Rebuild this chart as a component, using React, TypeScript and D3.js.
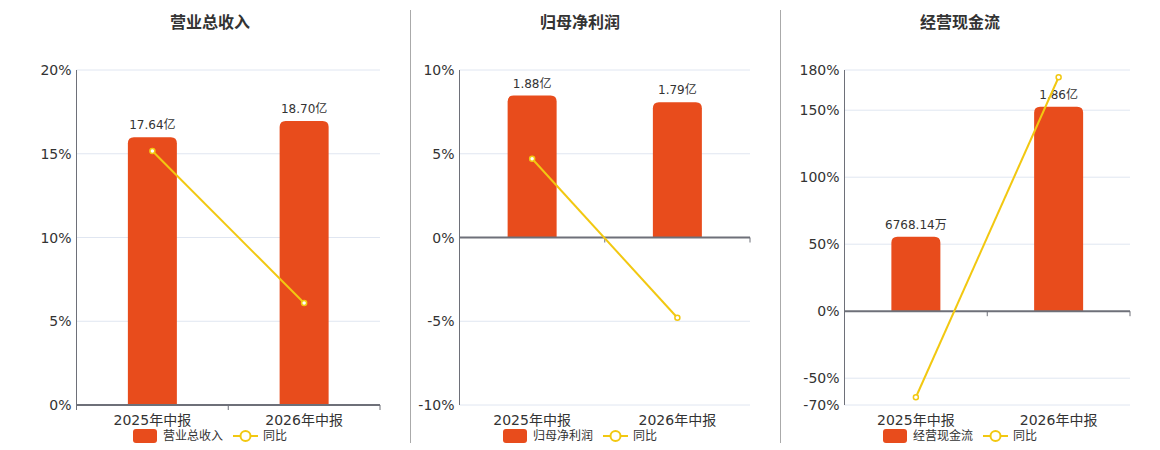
import React from 'react';
import * as d3 from 'd3';

const categories = ['2025年中报', '2026年中报'];

const panelTitles = ['营业总收入', '归母净利润', '经营现金流'];

const revenueValues = [17.64, 18.7];
const revenueLabels = ['17.64亿', '18.70亿'];
const revenueYoy = [15.16, 6.09];
const revenueTicks = [0, 5, 10, 15, 20];

const profitValues = [1.88, 1.79];
const profitLabels = ['1.88亿', '1.79亿'];
const profitYoy = [4.7, -4.79];
const profitTicks = [-10, -5, 0, 5, 10];

const cashValues = [0.676814, 1.86];
const cashLabels = ['6768.14万', '1.86亿'];
const cashYoy = [-64.2, 174.6];
const cashTicks = [-70, -50, 0, 50, 100, 150, 180];

const yoyLabel = '同比';

const FONT = '"DejaVu Sans", "Noto Sans CJK SC", sans-serif';
const BAR_COLOR = '#e84c1c';
const LINE_COLOR = '#f2c811';
const AXIS_COLOR = '#6e7079';
const GRID_COLOR = '#e0e6f1';
const TEXT_COLOR = '#333';

type PanelProps = {
  title: string;
  values: number[];
  labels: string[];
  yoy: number[];
  ticks: number[];
  left: number;
  right: number;
  center: number;
};

const TOP = 70;
const BOTTOM = 405;

const topRoundedRect = (x: number, y: number, w: number, h: number, r: number) => {
  const rr = Math.min(r, h, w / 2);
  return `M${x},${y + h}V${y + rr}Q${x},${y} ${x + rr},${y}H${x + w - rr}Q${x + w},${y} ${x + w},${y + rr}V${y + h}Z`;
};

const Panel: React.FC<PanelProps> = ({ title, values, labels, yoy, ticks, left, right, center }) => {
  const x = d3.scaleBand<string>().domain(categories).range([left, right]);
  const y = d3
    .scaleLinear()
    .domain([ticks[0], ticks[ticks.length - 1]])
    .range([BOTTOM, TOP]);
  const zeroY = y(0);
  const barMax = (d3.max(values) ?? 1) * 1.18;
  const yBar = d3.scaleLinear().domain([0, barMax]).range([zeroY, TOP]);
  const barWidth = 49;
  const cx = (c: string) => (x(c) ?? 0) + x.bandwidth() / 2;

  const line = d3
    .line<number>()
    .x((_, i) => cx(categories[i]))
    .y(d => y(d));

  return (
    <g>
      <text
        x={center}
        y={28}
        textAnchor="middle"
        fontSize={16}
        fontWeight="bold"
        fill={TEXT_COLOR}
      >
        {title}
      </text>
      {ticks.map(t => (
        <g key={t}>
          {t !== 0 && (
            <line x1={left} x2={right} y1={y(t)} y2={y(t)} stroke={GRID_COLOR} strokeWidth={1} />
          )}
          <text x={left - 5} y={y(t)} dy="0.36em" textAnchor="end" fontSize={14} fill={TEXT_COLOR}>
            {`${t}%`}
          </text>
        </g>
      ))}
      <line x1={left} x2={left} y1={TOP} y2={BOTTOM} stroke={AXIS_COLOR} strokeWidth={1} />
      {values.map((v, i) => {
        const c = categories[i];
        const top = yBar(v);
        return (
          <g key={c}>
            <path d={topRoundedRect(cx(c) - barWidth / 2, top, barWidth, zeroY - top, 6)} fill={BAR_COLOR} />
            <text x={cx(c)} y={top - 8} textAnchor="middle" fontSize={12} fill={TEXT_COLOR}>
              {labels[i]}
            </text>
          </g>
        );
      })}
      <line x1={left} x2={right} y1={zeroY} y2={zeroY} stroke={AXIS_COLOR} strokeWidth={2} />
      {[left, ...categories.map(c => (x(c) ?? 0) + x.bandwidth())].map((tx, i) => (
        <line key={i} x1={tx} x2={tx} y1={zeroY} y2={zeroY + 5} stroke={AXIS_COLOR} strokeWidth={1} />
      ))}
      <path d={line(yoy) ?? ''} fill="none" stroke={LINE_COLOR} strokeWidth={2} />
      {yoy.map((v, i) => (
        <circle
          key={i}
          cx={cx(categories[i])}
          cy={y(v)}
          r={2.5}
          fill="#fff"
          stroke={LINE_COLOR}
          strokeWidth={1.5}
        />
      ))}
      {categories.map(c => (
        <text key={c} x={cx(c)} y={425} textAnchor="middle" fontSize={14} fill={TEXT_COLOR}>
          {c}
        </text>
      ))}
      <g>
        <rect x={center - 77} y={429} width={24} height={14} rx={3} fill={BAR_COLOR} />
        <text x={center - 47} y={436} dy="0.36em" fontSize={12} fill={TEXT_COLOR}>
          {title}
        </text>
        <line x1={center + 23} x2={center + 48} y1={436} y2={436} stroke={LINE_COLOR} strokeWidth={2} />
        <circle cx={center + 35.5} cy={436} r={5} fill="#fff" stroke={LINE_COLOR} strokeWidth={2} />
        <text x={center + 53} y={436} dy="0.36em" fontSize={12} fill={TEXT_COLOR}>
          {yoyLabel}
        </text>
      </g>
    </g>
  );
};

export default function App() {
  return (
    <svg
      width={1160}
      height={450}
      viewBox="0 0 1160 450"
      style={{ position: 'absolute', left: 0, top: 0, fontFamily: FONT, background: '#fff' }}
    >
      <Panel
        title={panelTitles[0]}
        values={revenueValues}
        labels={revenueLabels}
        yoy={revenueYoy}
        ticks={revenueTicks}
        left={76.5}
        right={380}
        center={210}
      />
      <line x1={410.5} x2={410.5} y1={10} y2={443} stroke="#aaa" strokeWidth={1} />
      <Panel
        title={panelTitles[1]}
        values={profitValues}
        labels={profitLabels}
        yoy={profitYoy}
        ticks={profitTicks}
        left={459.5}
        right={750}
        center={580}
      />
      <line x1={780.5} x2={780.5} y1={10} y2={443} stroke="#aaa" strokeWidth={1} />
      <Panel
        title={panelTitles[2]}
        values={cashValues}
        labels={cashLabels}
        yoy={cashYoy}
        ticks={cashTicks}
        left={844.5}
        right={1130}
        center={960}
      />
    </svg>
  );
}
